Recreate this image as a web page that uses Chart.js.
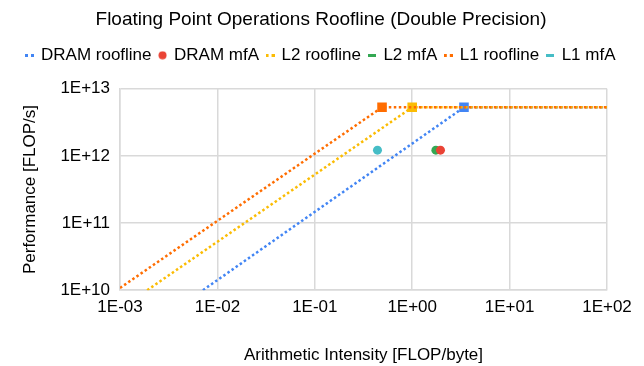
<!DOCTYPE html>
<html>
<head>
<meta charset="utf-8">
<script src="https://cdn.jsdelivr.net/npm/chart.js@4/dist/chart.umd.min.js"></script>
<style>
  html, body { margin: 0; padding: 0; background: #fff; }
  #wrap { width: 644px; height: 366px; }
</style>
</head>
<body>
<div id="wrap"><canvas id="chart" width="644" height="366"></canvas></div>
<script>
// Roofline data (x = FLOP/byte, y = FLOP/s)
const dramRoofX = [0.0071, 3.4, 100];
const dramRoofY = [1e10, 5.3e12, 5.3e12];
const l2RoofX = [0.0019, 1.0, 100];
const l2RoofY = [1e10, 5.3e12, 5.3e12];
const l1RoofX = [0.001, 0.49, 100];
const l1RoofY = [1.08e10, 5.3e12, 5.3e12];

const dramMfaX = [1.95];
const dramMfaY = [1.22e12];
const l2MfaX = [1.75];
const l2MfaY = [1.22e12];
const l1MfaX = [0.44];
const l1MfaY = [1.22e12];

const xTicks = [1e-3, 1e-2, 1e-1, 1e0, 1e1, 1e2];
const xTickLabels = ['1E-03', '1E-02', '1E-01', '1E+00', '1E+01', '1E+02'];
const yTicks = [1e10, 1e11, 1e12, 1e13];
const yTickLabels = ['1E+10', '1E+11', '1E+12', '1E+13'];

const FONT = "'Liberation Sans', Arial, sans-serif";

function pts(xs, ys) {
  return xs.map((x, i) => ({ x: x, y: ys[i] }));
}

// small legend markers
function dotsIcon(color) {
  const c = document.createElement('canvas');
  c.width = 9; c.height = 3;
  const g = c.getContext('2d');
  g.fillStyle = color;
  g.fillRect(0, 0, 3, 3);
  g.fillRect(6, 0, 3, 3);
  return c;
}
function dashIcon(color) {
  const c = document.createElement('canvas');
  c.width = 8; c.height = 3;
  const g = c.getContext('2d');
  g.fillStyle = color;
  g.fillRect(0, 0, 8, 3);
  return c;
}
function dotIcon(color) {
  const c = document.createElement('canvas');
  c.width = 9; c.height = 9;
  const g = c.getContext('2d');
  g.fillStyle = color;
  g.beginPath();
  g.arc(4.5, 4.5, 4, 0, Math.PI * 2);
  g.fill();
  return c;
}

const roofline = (label, xs, ys, color, order) => ({
  label: label,
  data: pts(xs, ys),
  showLine: true,
  borderColor: color,
  backgroundColor: color,
  borderWidth: 2.5,
  borderDash: [2.5, 2.5],
  pointStyle: 'rect',
  pointRadius: [0, 5, 0],
  pointHoverRadius: [0, 5, 0],
  order: order
});

const mfa = (label, xs, ys, color) => ({
  label: label,
  data: pts(xs, ys),
  showLine: false,
  borderColor: color,
  backgroundColor: color,
  pointStyle: 'circle',
  pointRadius: 4.5,
  borderWidth: 0,
  order: 0
});

const datasets = [
  roofline('DRAM roofline', dramRoofX, dramRoofY, '#4285F4', 3),
  mfa('DRAM mfA', dramMfaX, dramMfaY, '#EA4335'),
  roofline('L2 roofline', l2RoofX, l2RoofY, '#FBBC04', 2),
  mfa('L2 mfA', l2MfaX, l2MfaY, '#34A853'),
  roofline('L1 roofline', l1RoofX, l1RoofY, '#FF6D01', 1),
  mfa('L1 mfA', l1MfaX, l1MfaY, '#46BDC6')
];

const legendIcons = [
  dotsIcon('#4285F4'), dotIcon('#EA4335'), dotsIcon('#FBBC04'),
  dashIcon('#34A853'), dotsIcon('#FF6D01'), dashIcon('#46BDC6')
];

// extra room between legend and plot
const legendGap = {
  id: 'legendGap',
  beforeInit(chart) {
    const fit = chart.legend.fit;
    chart.legend.fit = function () {
      fit.bind(chart.legend)();
      this.height += 15;
    };
  }
};

new Chart(document.getElementById('chart'), {
  type: 'scatter',
  data: { datasets: datasets },
  plugins: [legendGap],
  options: {
    responsive: false,
    animation: false,
    layout: { padding: { left: 10, right: 12, top: 4, bottom: 0 } },
    plugins: {
      title: {
        display: true,
        text: 'Floating Point Operations Roofline (Double Precision)',
        color: '#000',
        font: { family: FONT, size: 19, weight: 'normal' },
        padding: { top: 4, bottom: 8 }
      },
      legend: {
        position: 'top',
        labels: {
          color: '#000',
          font: { family: FONT, size: 17 },
          usePointStyle: true,
          pointStyleWidth: 6,
          boxHeight: 8,
          padding: 8,
          sort: (a, b) => a.datasetIndex - b.datasetIndex,
          generateLabels: chart => {
            const items = Chart.defaults.plugins.legend.labels.generateLabels(chart);
            items.forEach(it => { it.pointStyle = legendIcons[it.datasetIndex]; });
            return items;
          }
        }
      },
      tooltip: { enabled: false }
    },
    scales: {
      x: {
        type: 'logarithmic',
        min: 1e-3,
        max: 1e2,
        afterBuildTicks: axis => { axis.ticks = xTicks.map(v => ({ value: v })); },
        afterFit: axis => { axis.paddingRight = 37; },
        ticks: {
          color: '#000',
          font: { family: FONT, size: 17 },
          padding: 7,
          maxRotation: 0,
          callback: v => xTickLabels[xTicks.findIndex(t => Math.abs(Math.log10(t) - Math.log10(v)) < 1e-6)]
        },
        grid: { color: '#d9d9d9', lineWidth: 1.5, drawTicks: false },
        border: { color: '#d9d9d9', width: 1.5 },
        title: {
          display: true,
          text: 'Arithmetic Intensity [FLOP/byte]',
          color: '#000',
          font: { family: FONT, size: 17 },
          padding: { top: 21, bottom: 0 }
        }
      },
      y: {
        type: 'logarithmic',
        min: 1e10,
        max: 1e13,
        afterBuildTicks: axis => { axis.ticks = yTicks.map(v => ({ value: v })); },
        ticks: {
          color: '#000',
          font: { family: FONT, size: 17 },
          padding: 10,
          callback: v => yTickLabels[yTicks.findIndex(t => Math.abs(Math.log10(t) - Math.log10(v)) < 1e-6)]
        },
        grid: { color: '#d9d9d9', lineWidth: 1.5, drawTicks: false },
        border: { color: '#d9d9d9', width: 1.5 },
        title: {
          display: true,
          text: 'Performance [FLOP/s]',
          color: '#000',
          font: { family: FONT, size: 17 },
          padding: { top: 10, bottom: 10 }
        }
      }
    }
  }
});
</script>
</body>
</html>
